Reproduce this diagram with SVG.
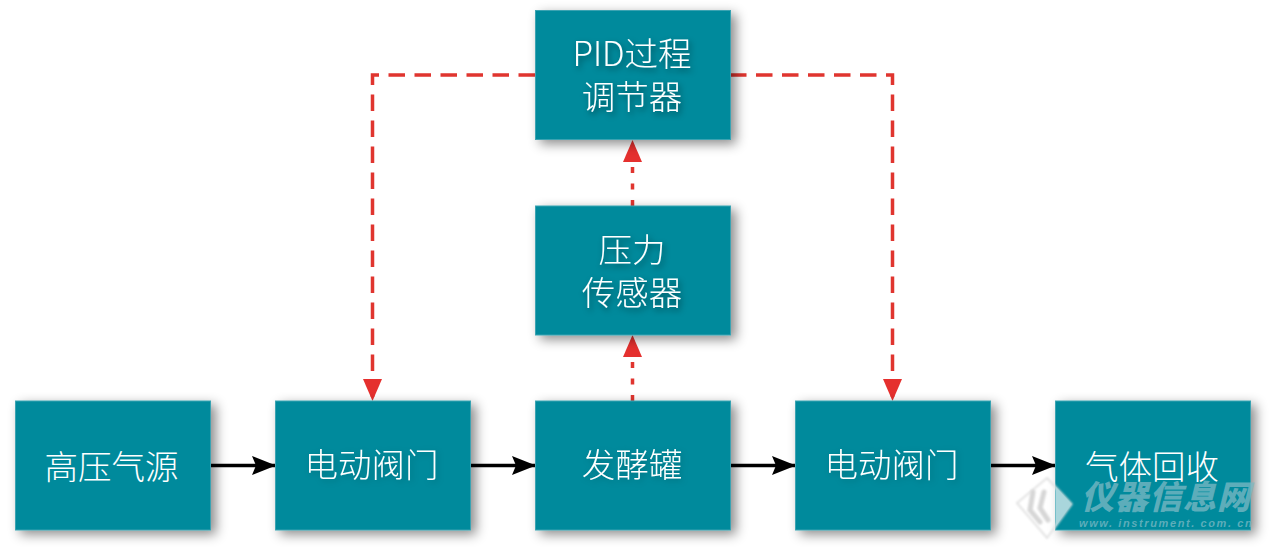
<svg xmlns="http://www.w3.org/2000/svg" width="1273" height="548" viewBox="0 0 1273 548">
<style>
.box{fill:#008a9c;stroke:#3aa3b2;stroke-width:1;filter:url(#bs)}
.t{font-family:"Noto Sans CJK SC","Noto Sans",sans-serif;font-size:33.500px;font-weight:300;fill:#fff;text-anchor:middle}
.s{filter:url(#ts)}
.f{filter:url(#tf)}
.red{fill:none;stroke:#e0352f;stroke-width:3.500;stroke-dasharray:16.500 9.500}
.dot{fill:none;stroke:#e0352f;stroke-width:3.500;stroke-dasharray:6 10.500}
.blk{fill:none;stroke:#000;stroke-width:3.500}
.wm{font-family:"Noto Sans CJK SC",sans-serif;font-weight:900;font-style:italic;font-size:33px;fill:#7db9c4;fill-opacity:.75;letter-spacing:1px}
.wu{font-family:"Liberation Sans",sans-serif;font-weight:700;font-style:italic;font-size:11px;fill:#7db9c4;fill-opacity:.75;letter-spacing:1.600px}
</style>
<defs>
<filter id="bs" x="-15%" y="-15%" width="130%" height="130%"><feDropShadow dx="5" dy="4" stdDeviation="6" flood-color="#000" flood-opacity=".45"/></filter>
<filter id="ts" x="-15%" y="-30%" width="130%" height="160%"><feDropShadow dx="2" dy="3" stdDeviation="3" flood-color="#000" flood-opacity=".45"/></filter>
<filter id="tf" x="-15%" y="-30%" width="130%" height="160%"><feDropShadow dx="2" dy="2" stdDeviation="3" flood-color="#000" flood-opacity=".2"/></filter>
<filter id="wb" x="-20%" y="-20%" width="140%" height="140%"><feGaussianBlur stdDeviation="1"/></filter>
<marker id="ar" markerUnits="userSpaceOnUse" markerWidth="24" markerHeight="22" refX="21" refY="10" orient="auto"><path d="M0 0.500L22 10L0 19.500Z" fill="#e5302e"/></marker>
<marker id="ak" markerUnits="userSpaceOnUse" markerWidth="24" markerHeight="22" refX="23" refY="10" orient="auto"><path d="M0 0.500L24 10L0 19.500L4 10Z" fill="#000"/></marker>
</defs>
<rect width="1273" height="548" fill="#fff"/>
<g id="connectors">
<path class="red" d="M535 75H372.500V400" marker-end="url(#ar)"/>
<path class="red" d="M730 75H892.500V400" marker-end="url(#ar)"/>
<path class="dot" d="M632.500 206V141" marker-end="url(#ar)"/>
<path class="dot" d="M632.500 401V336" marker-end="url(#ar)"/>
<path class="blk" d="M210 465.500H275" marker-end="url(#ak)"/>
<path class="blk" d="M470 465.500H535" marker-end="url(#ak)"/>
<path class="blk" d="M730 465.500H795" marker-end="url(#ak)"/>
<path class="blk" d="M990 465.500H1055" marker-end="url(#ak)"/>
</g>
<g id="n-pid"><rect class="box" x="535.500" y="10.500" width="195" height="129"/><text class="t s" x="632" y="66">PID过程</text><text class="t s" x="632" y="109">调节器</text></g>
<g id="n-sensor"><rect class="box" x="535.500" y="206" width="195" height="129"/><text class="t s" x="632" y="262">压力</text><text class="t s" x="632" y="305">传感器</text></g>
<g id="n-source"><rect class="box" x="15.500" y="401" width="195" height="129"/><text class="t" x="111.500" y="478.500">高压气源</text></g>
<g id="n-valve1"><rect class="box" x="275.500" y="401" width="195" height="129"/><text class="t f" x="371.500" y="477">电动阀门</text></g>
<g id="n-tank"><rect class="box" x="535.500" y="401" width="195" height="129"/><text class="t f" x="632" y="477">发酵罐</text></g>
<g id="n-valve2"><rect class="box" x="795.500" y="401" width="195" height="129"/><text class="t f" x="891.500" y="477">电动阀门</text></g>
<g id="n-recycle"><rect class="box" x="1055.500" y="401" width="195" height="129"/><text class="t" x="1152" y="478.500">气体回收</text></g>
<g id="watermark">
<path d="M1047 478L1071.500 504L1047 538L1017 503Z" fill="#fff" fill-opacity=".3" stroke="#e2e2e2" stroke-width="2" filter="url(#wb)"/>
<path d="M1056 487L1071.500 504L1056 526Z" fill="#a9d6dc"/>
<path d="M1033 492L1030 510L1040 522M1044 492L1040 508L1048 520" fill="none" stroke="#d6d6d6" stroke-width="5" stroke-linecap="round" filter="url(#wb)"/>
<text class="wm" x="1081" y="509">仪器信息网</text>
<text class="wu" x="1079" y="527">www. instrument. com. cn</text>
</g>
</svg>
